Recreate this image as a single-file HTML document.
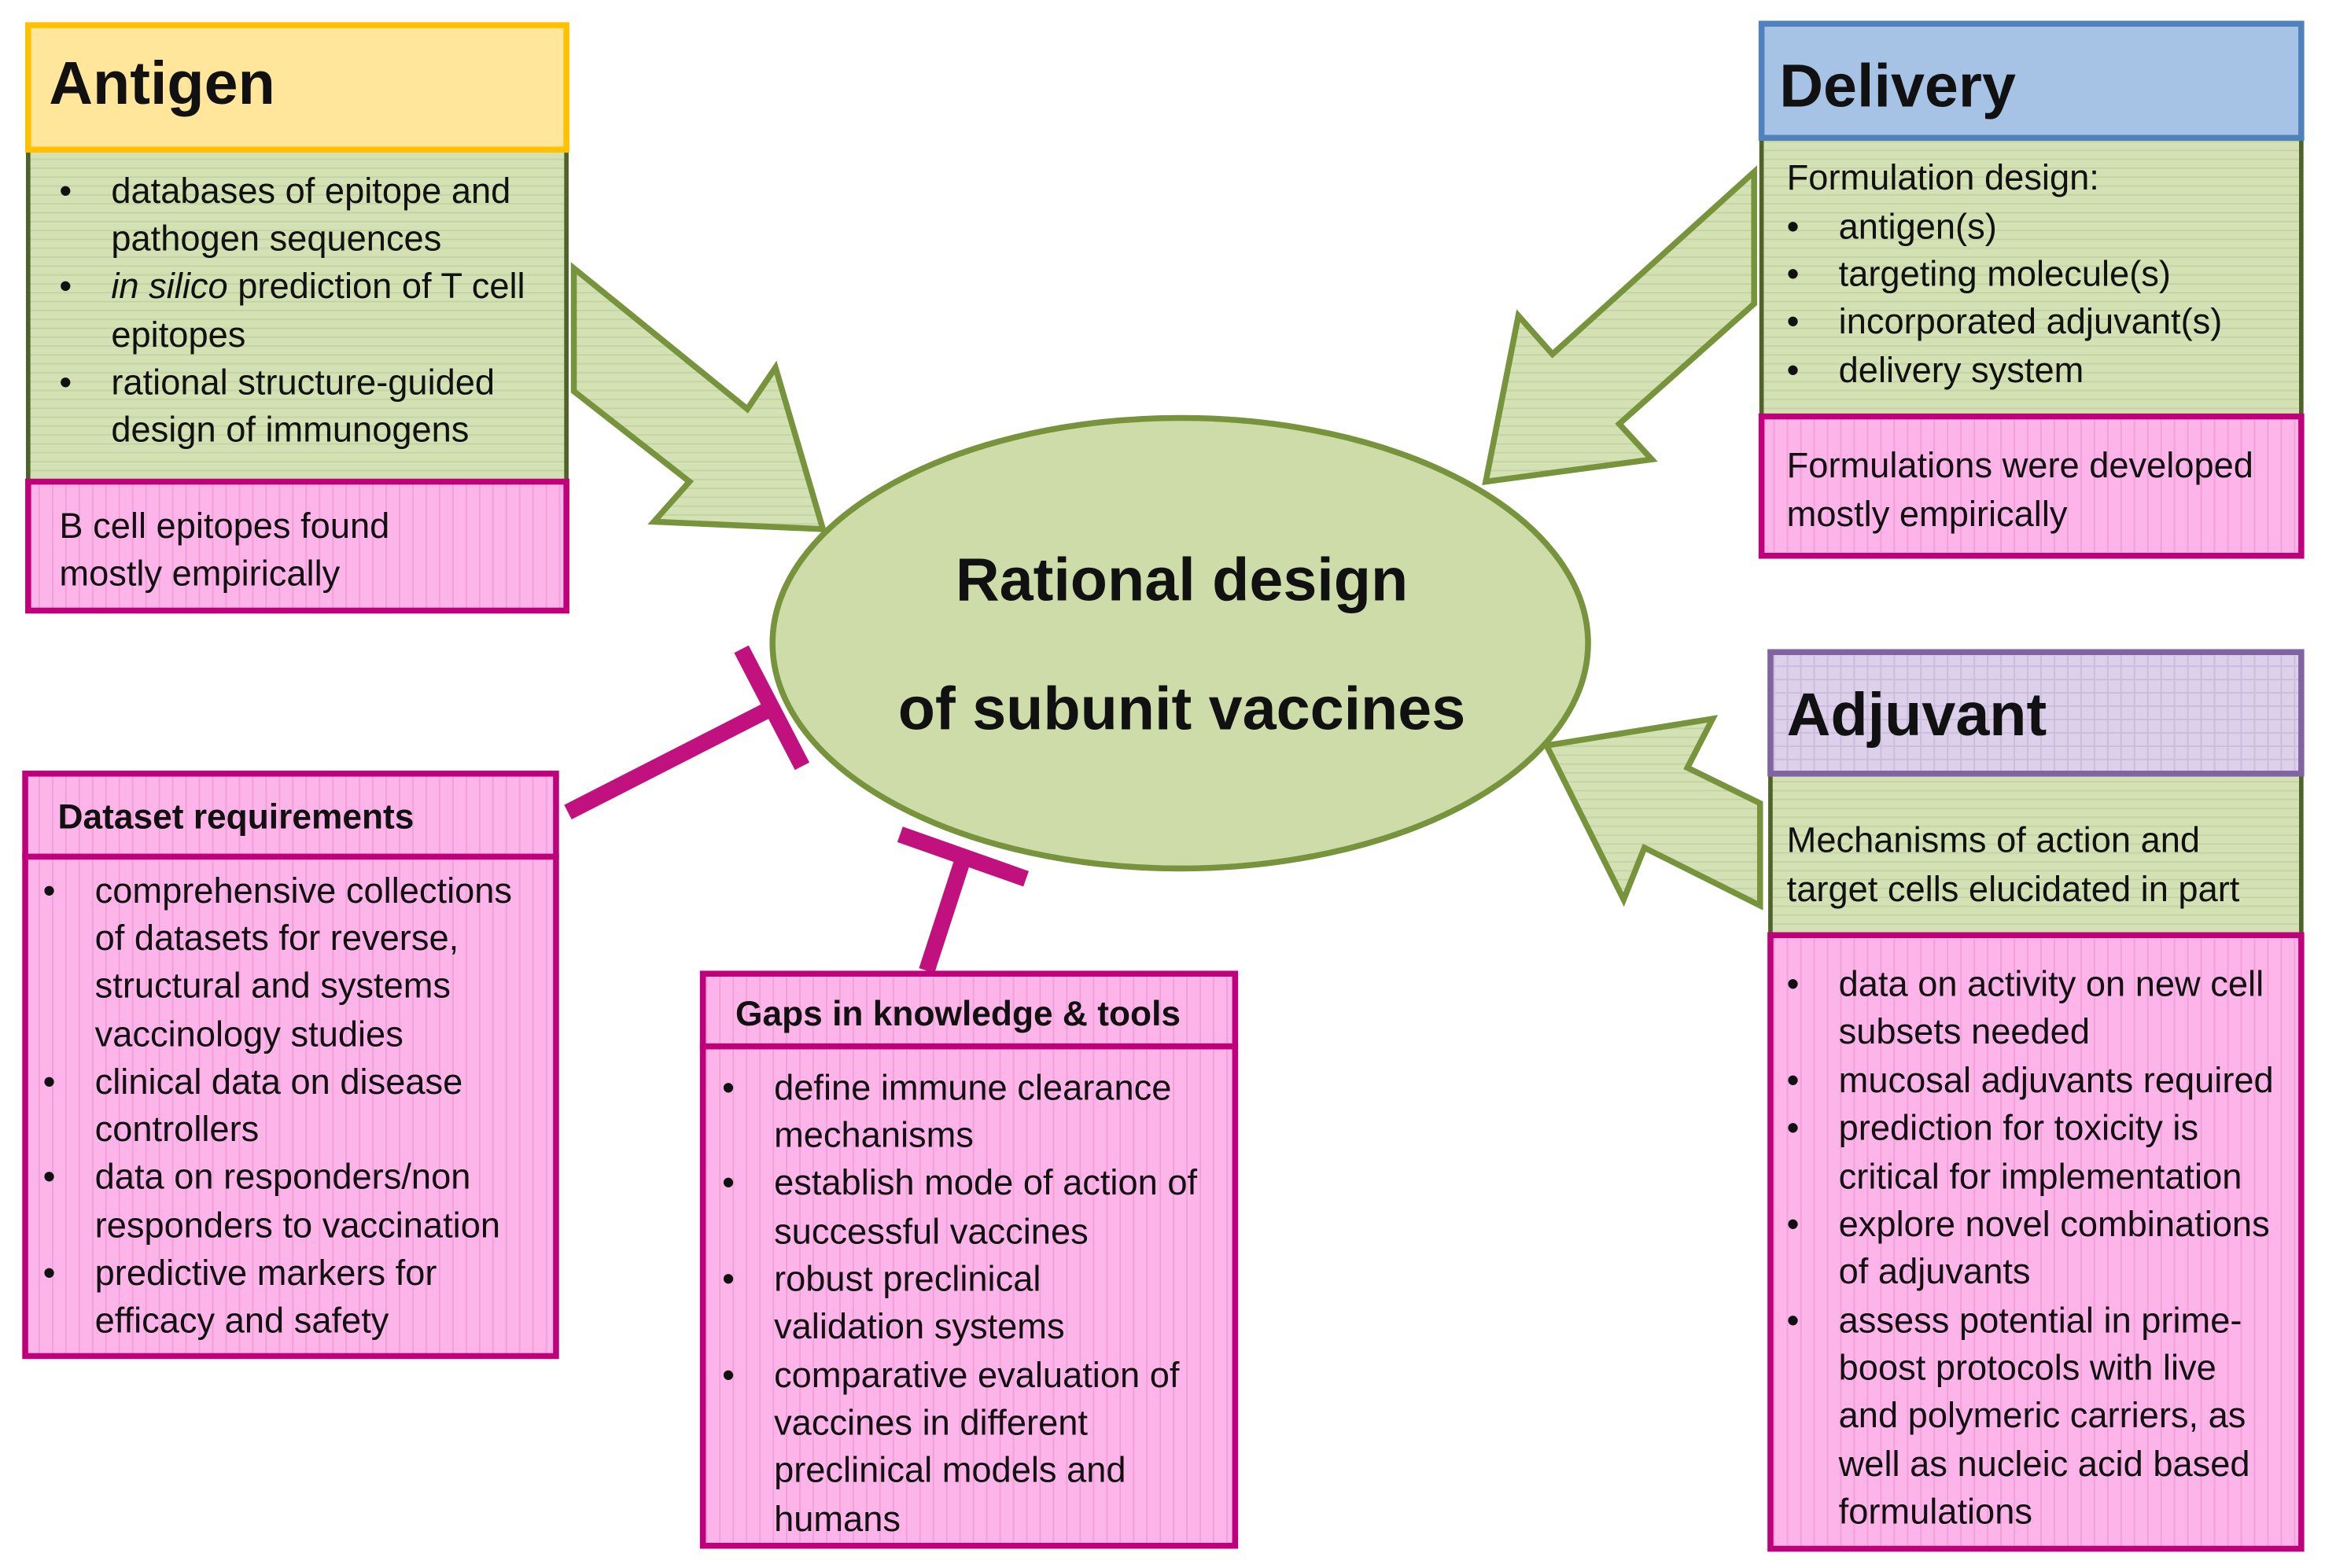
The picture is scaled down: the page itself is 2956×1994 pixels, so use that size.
<!DOCTYPE html>
<html><head><meta charset="utf-8"><style>
html,body{margin:0;padding:0;background:#fff;}
svg{display:block;}
text{font-family:"Liberation Sans",sans-serif;fill:#111;}
.b{font-size:24px;}
.h{font-size:41px;font-weight:bold;}
.s{font-size:23.5px;font-weight:bold;}
</style></head><body>
<svg width="2956" height="1994" viewBox="0 0 1568 1058" preserveAspectRatio="none" xmlns="http://www.w3.org/2000/svg">
<defs>
<pattern id="hl" width="10" height="6" patternUnits="userSpaceOnUse"><rect width="10" height="6" fill="#d3e1b4"/><line x1="0" y1="5.5" x2="10" y2="5.5" stroke="#c3d4a2" stroke-width="1"/></pattern>
<pattern id="vl" width="9" height="10" patternUnits="userSpaceOnUse"><rect width="9" height="10" fill="#fdb4e8"/><line x1="8.5" y1="0" x2="8.5" y2="10" stroke="#f19fd8" stroke-width="1"/></pattern>
<pattern id="gr" width="9" height="9" patternUnits="userSpaceOnUse"><rect width="9" height="9" fill="#dcd0ea"/><path d="M8.5 0V9M0 8.5H9" stroke="#cbbcdc" stroke-width="1"/></pattern>
</defs>

<g fill="url(#hl)" stroke="#77933c" stroke-width="4" stroke-linejoin="miter">
<polygon points="387,181 504,276 523,248 555,357 441,352 465,325 387,264"/>
<polygon points="1183,116 1047,239 1024,213 1002,325 1114,310 1092,286 1183,205"/>
<polygon points="1187,542 1138,518 1155,485 1043,503 1095,607 1109,572 1187,611"/>
</g>

<ellipse cx="796" cy="434" rx="275" ry="152" fill="#cddca9" stroke="#77933c" stroke-width="4"/>
<text x="797" y="405" text-anchor="middle" style="font-size:41px;font-weight:bold">Rational design</text>
<text x="797" y="492" text-anchor="middle" style="font-size:41px;font-weight:bold">of subunit vaccines</text>

<g stroke="#c0117f" stroke-width="11" fill="none">
<line x1="383" y1="548" x2="520" y2="478"/>
<line x1="500" y1="438" x2="541" y2="517"/>
<line x1="625" y1="655" x2="650" y2="578"/>
<line x1="607" y1="563" x2="692" y2="593"/>
</g>

<rect x="19" y="101" width="363" height="224" fill="url(#hl)" stroke="#4f6228" stroke-width="3"/>
<rect x="19" y="325" width="363" height="87" fill="url(#vl)" stroke="#c0007a" stroke-width="4"/>
<rect x="19" y="17" width="363" height="84" fill="#ffe69b" stroke="#ffc000" stroke-width="4"/>
<text x="33" y="70" class="h">Antigen</text>
<g class="b">
<text x="40" y="137">•</text><text x="75" y="137" class="b">databases of epitope and</text>
<text x="75" y="169" class="b">pathogen sequences</text>
<text x="40" y="201">•</text><text x="75" y="201" class="b"><tspan font-style="italic">in silico</tspan> prediction of T cell</text>
<text x="75" y="234" class="b">epitopes</text>
<text x="40" y="266">•</text><text x="75" y="266" class="b">rational structure-guided</text>
<text x="75" y="298" class="b">design of immunogens</text>
<text x="40" y="363" class="b">B cell epitopes found</text>
<text x="40" y="395" class="b">mostly empirically</text>
</g>

<rect x="1188" y="93" width="364" height="188" fill="url(#hl)" stroke="#4f6228" stroke-width="3"/>
<rect x="1188" y="281" width="364" height="94" fill="url(#vl)" stroke="#c0007a" stroke-width="4"/>
<rect x="1188" y="16" width="364" height="77" fill="#a6c3e6" stroke="#4f81bd" stroke-width="4"/>
<text x="1200" y="72" class="h">Delivery</text>
<g class="b">
<text x="1205" y="128">Formulation design:</text>
<text x="1205" y="161">•</text><text x="1240" y="161">antigen(s)</text>
<text x="1205" y="193">•</text><text x="1240" y="193">targeting molecule(s)</text>
<text x="1205" y="225">•</text><text x="1240" y="225">incorporated adjuvant(s)</text>
<text x="1205" y="258">•</text><text x="1240" y="258">delivery system</text>
<text x="1205" y="322">Formulations were developed</text>
<text x="1205" y="355">mostly empirically</text>
</g>

<rect x="1194" y="522" width="358" height="109" fill="url(#hl)" stroke="#4f6228" stroke-width="3"/>
<rect x="1194" y="631" width="358" height="414" fill="url(#vl)" stroke="#c0007a" stroke-width="4"/>
<rect x="1194" y="440" width="358" height="82" fill="url(#gr)" stroke="#8064a2" stroke-width="4"/>
<text x="1205" y="496" class="h">Adjuvant</text>
<g class="b">
<text x="1205" y="575">Mechanisms of action and</text>
<text x="1205" y="608">target cells elucidated in part</text>
<text x="1205" y="672">•</text><text x="1240" y="672">data on activity on new cell</text>
<text x="1240" y="704">subsets needed</text>
<text x="1205" y="737">•</text><text x="1240" y="737">mucosal adjuvants required</text>
<text x="1205" y="769">•</text><text x="1240" y="769">prediction for toxicity is</text>
<text x="1240" y="802">critical for implementation</text>
<text x="1205" y="834">•</text><text x="1240" y="834">explore novel combinations</text>
<text x="1240" y="866">of adjuvants</text>
<text x="1205" y="899">•</text><text x="1240" y="899">assess potential in prime-</text>
<text x="1240" y="931">boost protocols with live</text>
<text x="1240" y="963">and polymeric carriers, as</text>
<text x="1240" y="996">well as nucleic acid based</text>
<text x="1240" y="1028">formulations</text>
</g>

<rect x="17" y="578" width="358" height="337" fill="url(#vl)" stroke="#c0007a" stroke-width="4"/>
<rect x="17" y="522" width="358" height="56" fill="url(#vl)" stroke="#c0007a" stroke-width="4"/>
<text x="39" y="559" class="s">Dataset requirements</text>
<g class="b">
<text x="29" y="609">•</text><text x="64" y="609">comprehensive collections</text>
<text x="64" y="641">of datasets for reverse,</text>
<text x="64" y="673">structural and systems</text>
<text x="64" y="706">vaccinology studies</text>
<text x="29" y="738">•</text><text x="64" y="738">clinical data on disease</text>
<text x="64" y="770">controllers</text>
<text x="29" y="802">•</text><text x="64" y="802">data on responders/non</text>
<text x="64" y="835">responders to vaccination</text>
<text x="29" y="867">•</text><text x="64" y="867">predictive markers for</text>
<text x="64" y="899">efficacy and safety</text>
</g>

<rect x="474" y="706" width="359" height="337" fill="url(#vl)" stroke="#c0007a" stroke-width="4"/>
<rect x="474" y="657" width="359" height="49" fill="url(#vl)" stroke="#c0007a" stroke-width="4"/>
<text x="496" y="692" class="s">Gaps in knowledge &amp; tools</text>
<g class="b">
<text x="487" y="742">•</text><text x="522" y="742">define immune clearance</text>
<text x="522" y="774">mechanisms</text>
<text x="487" y="806">•</text><text x="522" y="806">establish mode of action of</text>
<text x="522" y="839">successful vaccines</text>
<text x="487" y="871">•</text><text x="522" y="871">robust preclinical</text>
<text x="522" y="903">validation systems</text>
<text x="487" y="936">•</text><text x="522" y="936">comparative evaluation of</text>
<text x="522" y="968">vaccines in different</text>
<text x="522" y="1000">preclinical models and</text>
<text x="522" y="1033">humans</text>
</g>
</svg>
</body></html>
